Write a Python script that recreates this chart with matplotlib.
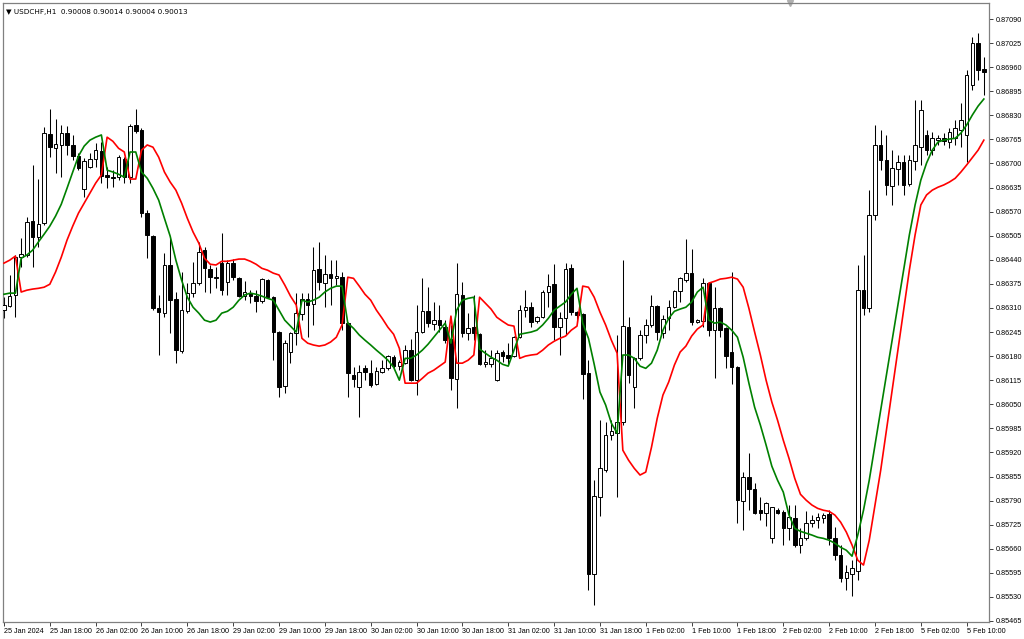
import matplotlib
matplotlib.use("Agg")
import matplotlib.pyplot as plt
import numpy as np

POINT = 1e-5  # prices below are written in points (1e-5)

open_pts = [86304,86315,86345,86447,86453,86544,86501,86539,86779,86741,
            86750,86782,86750,86720,86631,86690,86712,86733,86669,86663,
            86663,86712,86663,86804,86790,86566,86504,86309,86296,86426,
            86334,86193,86301,86350,86377,86466,86415,86393,86431,86380,
            86431,86390,86342,86350,86342,86328,86385,86340,86245,86099,
            86191,86242,86293,86334,86320,86415,86377,86401,86390,86393,
            86269,86129,86096,86147,86134,86104,86137,86147,86177,86153,
            86161,86196,86115,86245,86301,86266,86277,86258,86226,86118,
            86345,86242,86258,86239,86158,86158,86115,86191,86183,86180,
            86231,86304,86312,86274,86285,86353,86374,86258,86282,86417,
            86299,86293,86134,85591,85799,85872,85967,85972,86002,86258,
            86096,86174,86237,86264,86315,86242,86282,86312,86355,86385,
            86404,86272,86274,86377,86250,86309,86255,86191,86150,85788,
            85853,85821,85764,85756,85688,85764,85759,85715,85742,85670,
            85688,85729,85737,85742,85753,85688,85643,85580,85591,85600,
            86358,86309,86561,86750,86709,86640,86685,86704,86645,86706,
            86745,86777,86736,86763,86768,86758,86768,86790,86777,86912,
            87025,86955]
high_pts = [86339,86399,86453,86498,86555,86696,86658,86798,86847,86820,
            86804,86801,86777,86728,86714,86728,86755,86758,86690,86682,
            86723,86717,86806,86847,86795,86574,86507,86345,86458,86498,
            86353,86407,86377,86434,86488,86474,86426,86420,86512,86439,
            86442,86393,86382,86358,86358,86390,86388,86342,86247,86223,
            86245,86350,86350,86350,86474,86488,86453,86439,86439,86407,
            86272,86150,86156,86156,86169,86150,86169,86183,86183,86169,
            86210,86226,86318,86390,86366,86326,86318,86277,86264,86431,
            86380,86296,86345,86242,86196,86196,86196,86196,86215,86233,
            86318,86358,86326,86288,86358,86401,86428,86299,86431,86428,
            86301,86296,86169,85845,86007,86002,86007,86237,86439,86285,
            86177,86250,86280,86345,86318,86291,86331,86358,86393,86496,
            86469,86280,86390,86380,86366,86312,86258,86407,86152,85867,
            85918,85837,85799,85786,85774,85769,85764,85778,85778,85715,
            85761,85751,85756,85756,85764,85718,85670,85616,85629,86426,
            86453,86628,86804,86790,86777,86736,86723,86723,86723,86871,
            86871,86790,86785,86777,86782,86795,86817,86863,86952,87041,
            87052,86987]
low_pts = [86282,86312,86285,86420,86447,86420,86474,86534,86717,86674,
           86663,86723,86709,86682,86609,86687,86690,86647,86633,86636,
           86655,86647,86647,86782,86555,86444,86304,86183,86285,86242,
           86161,86188,86296,86339,86372,86353,86350,86363,86345,86345,
           86385,86339,86331,86323,86299,86323,86338,86169,86069,86080,
           86161,86210,86277,86231,86264,86358,86312,86318,86372,86250,
           86069,86096,86015,86115,86096,86102,86134,86142,86147,86142,
           86158,86112,86075,86242,86258,86250,86245,86215,86088,86039,
           86231,86223,86223,86156,86150,86150,86113,86164,86156,86177,
           86228,86285,86258,86269,86282,86312,86223,86183,86237,86291,
           86272,86064,85548,85508,85748,85867,85953,85799,85994,86107,
           86039,86169,86215,86258,86223,86228,86250,86309,86326,86380,
           86264,86269,86258,86234,86120,86231,86147,86104,85729,85710,
           85764,85753,85737,85721,85675,85754,85670,85683,85664,85648,
           85683,85718,85715,85729,85670,85629,85570,85548,85532,85575,
           86291,86299,86547,86682,86615,86588,86642,86615,86638,86682,
           86696,86723,86723,86750,86750,86741,86750,86744,86704,86898,
           86925,86885]
close_pts = [86318,86342,86447,86455,86542,86501,86536,86782,86744,86752,
             86782,86750,86720,86687,86706,86712,86736,86666,86663,86660,
             86717,86663,86801,86787,86566,86507,86309,86299,86426,86331,
             86196,86304,86350,86377,86461,86417,86393,86390,86358,86431,
             86393,86342,86353,86342,86328,86388,86340,86245,86096,86215,
             86242,86296,86334,86318,86412,86380,86401,86390,86396,86269,
             86134,86118,86137,86137,86102,86139,86147,86180,86153,86164,
             86196,86115,86245,86301,86269,86277,86264,86223,86120,86347,
             86242,86255,86242,86158,86164,86174,86188,86180,86174,86231,
             86304,86312,86272,86285,86353,86369,86258,86282,86415,86299,
             86291,86131,85591,85802,85877,85967,85977,86002,86261,86129,
             86174,86237,86264,86315,86245,86280,86312,86355,86390,86404,
             86272,86277,86377,86250,86309,86250,86180,86150,85791,85853,
             85821,85756,85756,85783,85772,85756,85715,85745,85670,85688,
             85729,85737,85745,85751,85688,85643,85580,85597,85607,86358,
             86309,86561,86750,86709,86642,86687,86704,86642,86709,86750,
             86844,86736,86768,86768,86760,86785,86795,86817,86939,87025,
             86952,86947]

green_pts = [86347,86350,86350,86444,86453,86466,86488,86509,86531,86558,
             86590,86633,86677,86720,86747,86763,86771,86777,86682,86677,
             86671,86663,86731,86731,86677,86660,86633,86601,86552,86504,
             86439,86385,86339,86312,86296,86277,86272,86277,86296,86301,
             86312,86331,86345,86350,86347,86342,86336,86331,86304,86277,
             86261,86245,86331,86326,86331,86339,86353,86363,86369,86369,
             86269,86255,86237,86223,86210,86196,86183,86169,86150,86115,
             86174,86174,86183,86196,86212,86231,86250,86269,86215,86304,
             86331,86336,86339,86199,86188,86177,86169,86158,86153,86196,
             86239,86242,86245,86250,86264,86282,86304,86315,86326,86347,
             86363,86269,86228,86158,86083,86048,85999,85972,86183,86183,
             86174,86153,86147,86161,86196,86250,86282,86301,86307,86312,
             86326,86353,86366,86277,86269,86272,86264,86250,86231,86177,
             86107,86042,85994,85940,85883,85845,85813,85751,85715,85707,
             85702,85697,85691,85688,85683,85675,85664,85656,85640,85697,
             85764,85845,85940,86034,86129,86223,86318,86412,86507,86588,
             86655,86701,86736,86758,86763,86766,86768,86782,86804,86831,
             86855,86874]
red_pts = [86431,86439,86450,86353,86358,86361,86363,86366,86374,86407,
           86447,86493,86531,86566,86593,86620,86647,86669,86771,86760,
           86741,86731,86658,86658,86736,86750,86744,86717,86677,86650,
           86628,86593,86552,86515,86485,86444,86428,86426,86436,86436,
           86439,86442,86442,86436,86428,86417,86412,86404,86399,86372,
           86342,86318,86228,86215,86210,86207,86210,86218,86231,86264,
           86393,86390,86369,86347,86331,86304,86282,86258,86239,86201,
           86107,86107,86107,86120,86134,86142,86153,86164,86288,86161,
           86161,86169,86183,86339,86323,86307,86285,86274,86264,86261,
           86174,86180,86183,86185,86196,86210,86220,86228,86234,86250,
           86261,86369,86366,86339,86299,86264,86223,86188,85926,85899,
           85877,85859,85867,85934,86012,86075,86110,86156,86191,86207,
           86234,86253,86264,86377,86382,86388,86390,86393,86388,86366,
           86309,86245,86183,86115,86056,86007,85953,85904,85850,85807,
           85791,85778,85769,85764,85761,85751,85732,85705,85670,85629,
           85616,85683,85778,85872,85980,86088,86196,86304,86412,86507,
           86588,86615,86628,86636,86642,86650,86660,86677,86696,86716,
           86736,86763]

time_labels = ["25 Jan 2024", "25 Jan 18:00", "26 Jan 02:00", "26 Jan 10:00",
               "26 Jan 18:00", "29 Jan 02:00", "29 Jan 10:00", "29 Jan 18:00",
               "30 Jan 02:00", "30 Jan 10:00", "30 Jan 18:00", "31 Jan 02:00",
               "31 Jan 10:00", "31 Jan 18:00", "1 Feb 02:00", "1 Feb 10:00",
               "1 Feb 18:00", "2 Feb 02:00", "2 Feb 10:00", "2 Feb 18:00",
               "5 Feb 02:00", "5 Feb 10:00"]
label_step = 8
price_ticks = [0.87090, 0.87025, 0.86960, 0.86895, 0.86830, 0.86765, 0.86700,
               0.86635, 0.86570, 0.86505, 0.86440, 0.86375, 0.86310, 0.86245,
               0.86180, 0.86115, 0.86050, 0.85985, 0.85920, 0.85855, 0.85790,
               0.85725, 0.85660, 0.85595, 0.85530, 0.85465]
header = "USDCHF,H1  0.90008 0.90014 0.90004 0.90013"

o = np.array(open_pts) * POINT
h = np.array(high_pts) * POINT
l = np.array(low_pts) * POINT
c = np.array(close_pts) * POINT
g = np.array(green_pts) * POINT
r = np.array(red_pts) * POINT
x = np.arange(len(o))

plt.rcParams['font.family'] = ['Liberation Sans', 'DejaVu Sans']

W, H = 1024, 639
fig = plt.figure(figsize=(W / 100, H / 100), dpi=100)
fig.patch.set_facecolor('white')
ax = fig.add_axes([3 / W, 1 - 622 / H, (989 - 3) / W, (622 - 3) / H])

# wicks
ax.vlines(x, l, h, color='black', linewidth=0.75, zorder=2)
# bodies
bull = c >= o
body_w = 0.62
bottoms = np.minimum(o, c)
heights = np.maximum(np.abs(c - o), 0.3 * POINT)
ax.bar(x[bull], heights[bull], bottom=bottoms[bull], width=body_w,
       facecolor='white', edgecolor='black', linewidth=0.7, zorder=3)
ax.bar(x[~bull], heights[~bull], bottom=bottoms[~bull], width=body_w,
       facecolor='black', edgecolor='black', linewidth=0.7, zorder=3)

# indicator lines
ax.plot(x, r, color='#ff0000', linewidth=1.2, zorder=4)
ax.plot(x, g, color='#008000', linewidth=1.2, zorder=5)

ax.set_xlim(-0.17, 171.9)
ax.set_ylim(0.854623, 0.871332)

ax.yaxis.tick_right()
ax.set_yticks(price_ticks)
ax.set_yticklabels([f"{v:.5f}" for v in price_ticks])
ax.set_xticks(np.arange(0, label_step * len(time_labels), label_step))
ax.set_xticklabels(time_labels, ha='left')
ax.tick_params(axis='both', direction='out', length=3, width=0.7,
               color='#404040', labelsize=5.2, labelcolor='black')
ax.tick_params(axis='y', pad=2)
ax.tick_params(axis='x', pad=1.5)
for sp in ax.spines.values():
    sp.set_color('#808080')
    sp.set_linewidth(0.9)

ax.text(0.003, 0.99, "\u25bc " + header, transform=ax.transAxes, fontsize=5.2,
        va='top', ha='left', color='black', family=['DejaVu Sans'])
ax.plot([0.798], [1.0], marker='v', color='#b0b0b0', markersize=4,
        transform=ax.transAxes, clip_on=False)

fig.savefig("out.png", dpi=100, facecolor='white')
